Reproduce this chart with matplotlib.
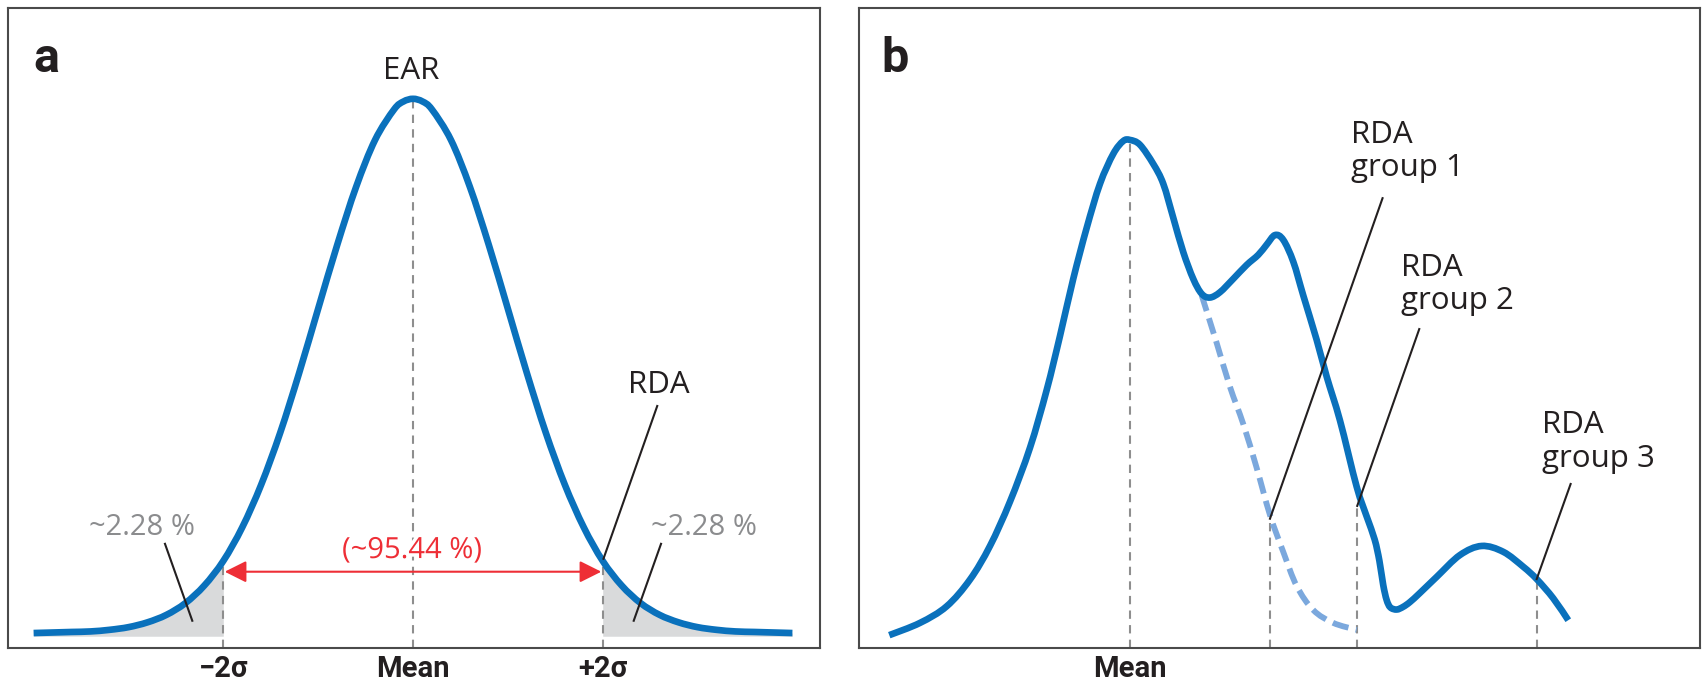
import matplotlib

matplotlib.use("Agg")
import matplotlib.patheffects as pe
import matplotlib.pyplot as plt
import numpy as np
from matplotlib.patches import PathPatch
from matplotlib.path import Path

AZUL = "#0a71bc"
AZUL_CLARO = "#7ba8dd"
CINZA_GUIA = "#8e8e8e"
CINZA_AREA = "#d9dadb"
CINZA_TEXTO = "#8b8c8e"
VERMELHO = "#ee2e36"
PRETO = "#231f20"
MOLDURA = "#4a4a4a"

FONTE = ["Open Sans", "DejaVu Sans"]
FONTE_NEGRITO = ["Roboto", "DejaVu Sans"]

# painel a: curva normal, x em unidades de sigma, altura relativa ao pico
normal_x = [-4.0, -3.8, -3.6, -3.4, -3.2, -3.0, -2.8, -2.6, -2.4, -2.2, -2.0,
            -1.8, -1.6, -1.4, -1.2, -1.0, -0.8, -0.6, -0.4, -0.2, -0.1, 0.0,
            0.1, 0.2, 0.4, 0.6, 0.8, 1.0, 1.2, 1.4, 1.6, 1.8, 2.0,
            2.2, 2.4, 2.6, 2.8, 3.0, 3.2, 3.4, 3.6, 3.8, 4.0]
normal_y = [0.000, 0.001, 0.002, 0.003, 0.006, 0.011, 0.020, 0.034, 0.056, 0.089, 0.135,
            0.198, 0.278, 0.375, 0.487, 0.607, 0.726, 0.835, 0.923, 0.980, 0.995, 1.000,
            0.995, 0.980, 0.923, 0.835, 0.726, 0.607, 0.487, 0.375, 0.278, 0.198, 0.135,
            0.089, 0.056, 0.034, 0.020, 0.011, 0.006, 0.003, 0.002, 0.001, 0.000]
guias_a_x = [-2.0, 0.0, 2.0]
rotulos_a = ["\u22122\u03c3", "Mean", "+2\u03c3"]
rotulo_pico = "EAR"
rotulo_rda = "RDA"
rotulo_cauda = "~2.28 %"
rotulo_centro = "(~95.44 %)"

# painel b: distribuicao com varios grupos (unidades arbitrarias, media em 0)
multi_x = [-2.538, -2.214, -1.933, -1.687, -1.476, -1.265, -1.054, -0.878, -0.738,
           -0.598, -0.457, -0.316, -0.176, -0.071, 0.000, 0.105, 0.246, 0.351,
           0.457, 0.562, 0.667, 0.756, 0.843, 0.949, 1.089, 1.230, 1.353, 1.441,
           1.529, 1.616, 1.722, 1.827, 1.968, 2.074, 2.214, 2.390, 2.496, 2.580,
           2.630, 2.670, 2.706, 2.745, 2.812, 2.880, 2.952, 3.057, 3.233, 3.479,
           3.708, 3.936, 4.147, 4.288, 4.463, 4.621]
multi_y = [-0.004, 0.019, 0.050, 0.100, 0.163, 0.246, 0.347, 0.455, 0.556,
           0.663, 0.758, 0.841, 0.897, 0.921, 0.923, 0.914, 0.878, 0.841,
           0.777, 0.713, 0.663, 0.635, 0.628, 0.638, 0.663, 0.689, 0.708, 0.727,
           0.745, 0.736, 0.695, 0.632, 0.549, 0.480, 0.398, 0.274, 0.218, 0.175,
           0.135, 0.090, 0.062, 0.048, 0.044, 0.049, 0.058, 0.075, 0.105, 0.146,
           0.163, 0.152, 0.124, 0.101, 0.065, 0.024]
grupo1_x = [0.756, 0.914, 1.054, 1.195, 1.336, 1.476, 1.616, 1.758, 1.933, 2.143, 2.390]
grupo1_y = [0.632, 0.543, 0.461, 0.391, 0.309, 0.221, 0.152, 0.088, 0.043, 0.019, 0.006]
guias_b_x = [0.0, 1.476, 2.390, 4.288]
guias_b_topo = [0.923, 0.221, 0.238, 0.101]
grupos_b = ["group 1", "group 2", "group 3"]
ligacoes_b_inicio = [(2.663, 0.814), (3.050, 0.569), (4.646, 0.279)]
ligacoes_b_fim = [(1.476, 0.214), (2.396, 0.238), (4.288, 0.101)]

Y_LIM = (-0.028, 1.170)


def trajeto_suave(xs, ys) -> Path:
    """Path com curvas de Bezier passando pelos pontos lidos (Catmull-Rom)."""
    pts = np.column_stack([xs, ys]).astype(float)
    verts = [pts[0]]
    codes = [Path.MOVETO]
    n = len(pts)
    for i in range(n - 1):
        p0 = pts[i - 1] if i > 0 else pts[i]
        p1 = pts[i]
        p2 = pts[i + 1]
        p3 = pts[i + 2] if i + 2 < n else pts[i + 1]
        verts += [p1 + (p2 - p0) / 6.0, p2 - (p3 - p1) / 6.0, p2]
        codes += [Path.CURVE4] * 3
    return Path(verts, codes)


def curva(ax, xs, ys, **kw):
    patch = PathPatch(trajeto_suave(xs, ys), fill=False, capstyle="butt",
                      joinstyle="round", **kw)
    ax.add_patch(patch)


def preparar_eixo(ax, xlim):
    ax.set_xlim(*xlim)
    ax.set_ylim(*Y_LIM)
    ax.set_xticks([])
    ax.set_yticks([])
    for spine in ax.spines.values():
        spine.set_color(MOLDURA)
        spine.set_linewidth(1.5)


def texto(ax, x, y, s, **kw):
    kw.setdefault("family", FONTE)
    kw.setdefault("size", 22.5)
    kw.setdefault("color", PRETO)
    kw.setdefault("va", "baseline")
    return ax.text(x, y, s, clip_on=False, **kw)


def painel_a(ax):
    preparar_eixo(ax, (-4.27, 4.291))
    x = np.array(normal_x)
    y = np.array(normal_y)

    ax.fill_between(x, -0.006, y, where=x <= -2, color=CINZA_AREA, lw=0, zorder=1)
    ax.fill_between(x, -0.006, y, where=x >= 2, color=CINZA_AREA, lw=0, zorder=1)

    topos = np.interp(guias_a_x, x, y)
    ax.vlines(guias_a_x, Y_LIM[0], topos, colors=CINZA_GUIA,
              linestyles=(0, (4, 3)), lw=1.5, zorder=2)

    curva(ax, x, y, edgecolor=AZUL, lw=4.8, zorder=3)

    ax.annotate("", xy=(-1.985, 0.1148), xytext=(1.985, 0.1148),
                arrowprops=dict(arrowstyle="<|-|>,head_length=0.6,head_width=0.3",
                                color=VERMELHO, lw=1.5, mutation_scale=22,
                                shrinkA=0, shrinkB=0), zorder=4)

    # linhas de chamada
    ax.plot([-2.615, -2.327], [0.167, 0.023], color=PRETO, lw=1.5, zorder=4)
    ax.plot([2.615, 2.327], [0.167, 0.023], color=PRETO, lw=1.5, zorder=4)
    ax.plot([2.575, 2.008], [0.425, 0.139], color=PRETO, lw=1.5, zorder=4)

    texto(ax, -4.005, 1.0506, "a", family=FONTE_NEGRITO, weight="bold", size=35)
    texto(ax, -0.02, 1.0375, rotulo_pico, ha="center")
    texto(ax, 2.265, 0.4494, rotulo_rda)
    texto(ax, -3.42, 0.1835, rotulo_cauda, color=CINZA_TEXTO, size=21)
    texto(ax, 2.505, 0.1835, rotulo_cauda, color=CINZA_TEXTO, size=21)
    centro = texto(ax, -0.01, 0.1404, rotulo_centro, color=VERMELHO, ha="center",
                   size=21, zorder=5)
    centro.set_path_effects([pe.withStroke(linewidth=5, foreground="white")])
    for gx, rot in zip(guias_a_x, rotulos_a):
        texto(ax, gx, -0.0824, rot, family=FONTE_NEGRITO, weight="bold", ha="center",
              size=21)


def painel_b(ax):
    preparar_eixo(ax, (-2.857, 6.01))

    ax.vlines(guias_b_x, Y_LIM[0], guias_b_topo, colors=CINZA_GUIA,
              linestyles=(0, (4, 3)), lw=1.5, zorder=2)

    curva(ax, grupo1_x, grupo1_y, edgecolor=AZUL_CLARO, lw=4.2,
          linestyle=(0, (2.8, 1.3)), zorder=3)
    curva(ax, multi_x, multi_y, edgecolor=AZUL, lw=4.8, zorder=3)

    for (x0, y0), (x1, y1) in zip(ligacoes_b_inicio, ligacoes_b_fim):
        ax.plot([x0, x1], [y0, y1], color=PRETO, lw=1.5, zorder=4)

    texto(ax, -2.619, 1.0506, "b", family=FONTE_NEGRITO, weight="bold", size=35)
    posicoes = [(2.327, 0.918), (2.862, 0.6685), (4.348, 0.374)]
    for (tx, ty), grupo in zip(posicoes, grupos_b):
        texto(ax, tx, ty, rotulo_rda)
        texto(ax, tx, ty - 0.0625, grupo)
    texto(ax, 0.0, -0.0824, "Mean", family=FONTE_NEGRITO, weight="bold", ha="center",
          size=21)


def main() -> None:
    fig = plt.figure(figsize=(17.04, 6.84), dpi=100)
    ax_a = fig.add_axes([8 / 1704, 36 / 684, 812 / 1704, 640 / 684])
    ax_b = fig.add_axes([859 / 1704, 36 / 684, 841 / 1704, 640 / 684])
    painel_a(ax_a)
    painel_b(ax_b)
    fig.savefig("out.png", dpi=100, facecolor="white")
    plt.close(fig)


if __name__ == "__main__":
    main()
